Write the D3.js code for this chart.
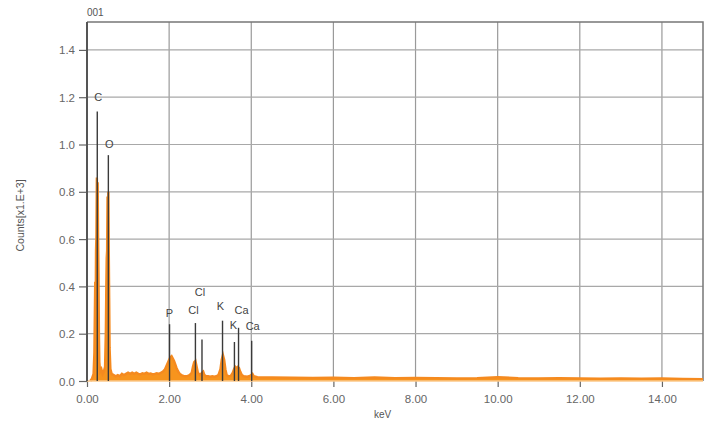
<!DOCTYPE html>
<meta charset="utf-8">
<head>
<style>
  body { margin: 0; background: #fff; }
  text { font-family: "Liberation Sans", Arial, sans-serif; }
</style>
</head>
<body>
<script src="https://d3js.org/d3.v7.min.js"></script>
<script>

// spectrum channels (keV) and counts (x1E+3)
var energy = [0.08,0.12,0.16,0.18,0.20,0.21,0.22,0.23,0.24,0.25,0.26,0.27,0.28,0.29,0.30,0.32,0.35,0.38,0.41,0.44,
  0.46,0.47,0.48,0.49,0.50,0.51,0.52,0.53,0.54,0.55,0.57,0.60,0.65,0.70,0.75,0.80,0.85,0.90,0.95,1.00,
  1.05,1.10,1.15,1.20,1.25,1.30,1.35,1.40,1.45,1.50,1.55,1.60,1.65,1.70,1.75,1.80,1.85,1.90,1.95,2.00,
  2.03,2.06,2.09,2.12,2.15,2.18,2.22,2.26,2.30,2.35,2.40,2.45,2.50,2.55,2.58,2.61,2.64,2.67,2.70,2.75,
  2.80,2.83,2.86,2.90,2.95,3.00,3.05,3.10,3.15,3.20,3.25,3.28,3.31,3.34,3.37,3.40,3.45,3.50,3.55,3.58,
  3.61,3.64,3.67,3.70,3.73,3.77,3.82,3.90,3.95,4.00,4.03,4.06,4.15,4.30,4.50,5.00,5.50,6.00,6.50,7.00,
  7.50,8.00,8.50,9.00,9.50,10.00,10.50,11.00,11.50,12.00,12.50,13.00,13.50,14.00,14.50,15.00];
var counts = [0.0,0.01,0.03,0.12,0.42,0.30,0.55,0.62,0.86,0.70,0.84,0.60,0.45,0.20,0.08,0.04,0.05,0.03,0.04,0.06,
  0.22,0.40,0.52,0.55,0.78,0.62,0.80,0.55,0.35,0.14,0.05,0.03,0.025,0.02,0.025,0.02,0.03,0.025,0.03,0.035,
  0.03,0.035,0.03,0.035,0.03,0.028,0.033,0.03,0.035,0.03,0.032,0.028,0.03,0.033,0.03,0.035,0.04,0.05,0.07,0.09,
  0.10,0.105,0.095,0.085,0.07,0.055,0.04,0.03,0.025,0.022,0.02,0.022,0.025,0.035,0.06,0.08,0.085,0.06,0.035,0.025,
  0.035,0.04,0.025,0.02,0.02,0.018,0.02,0.018,0.02,0.025,0.05,0.09,0.11,0.09,0.05,0.025,0.02,0.022,0.035,0.05,
  0.06,0.055,0.06,0.055,0.04,0.025,0.02,0.018,0.02,0.025,0.03,0.02,0.016,0.015,0.015,0.014,0.013,0.014,0.012,0.015,
  0.012,0.013,0.012,0.011,0.012,0.016,0.012,0.011,0.012,0.011,0.01,0.011,0.01,0.011,0.009,0.008];

// element marker lines: name, keV, line top, label height
var lineNames  = ["C", "O", "P", "Cl", "Cl", "K", "K", "Ca", "Ca"];
var lineKeV    = [0.25, 0.52, 2.01, 2.64, 2.80, 3.30, 3.59, 3.69, 4.01];
var lineTop    = [1.14, 0.955, 0.24, 0.245, 0.175, 0.255, 0.165, 0.225, 0.17];
var labelAt    = [1.20, 1.00, 0.285, 0.30, 0.375, 0.315, 0.235, 0.30, 0.23];
var labelShift = [1, 1, 0, -2, -2, -2, -1, 3, 1];

var xTicks = [0, 2, 4, 6, 8, 10, 12, 14];
var yTicks = [0, 0.2, 0.4, 0.6, 0.8, 1.0, 1.2, 1.4];

var width = 710, height = 427;
var margin = {top: 22, right: 7, bottom: 46, left: 87};
var w = width - margin.left - margin.right;
var h = height - margin.top - margin.bottom;

var svg = d3.select("body").append("svg")
    .attr("width", width)
    .attr("height", height);

var g = svg.append("g")
    .attr("transform", "translate(" + margin.left + "," + margin.top + ")");

var x = d3.scaleLinear().domain([0, 15]).range([0, w]);
var y = d3.scaleLinear().domain([0, 1.518]).range([h, 0]);

// grid
g.selectAll(".vgrid").data(xTicks.slice(1))
  .enter().append("line")
    .attr("x1", d => x(d)).attr("x2", d => x(d))
    .attr("y1", 0).attr("y2", h)
    .style("stroke", "#9a9a9a").style("stroke-width", 1.2);

g.selectAll(".hgrid").data(yTicks.slice(1))
  .enter().append("line")
    .attr("x1", 0).attr("x2", w)
    .attr("y1", d => y(d)).attr("y2", d => y(d))
    .style("stroke", "#a8a8a8").style("stroke-width", 1.2);

// frame top and right
g.append("path")
    .attr("d", "M0,0H" + w + "V" + h)
    .style("fill", "none").style("stroke", "#777").style("stroke-width", 1.5);

// axes
var xAxis = d3.axisBottom(x).tickValues(xTicks).tickFormat(d3.format(".2f")).tickSize(6).tickSizeOuter(0);
var yAxis = d3.axisLeft(y).tickValues(yTicks).tickFormat(d3.format(".1f")).tickSize(8).tickSizeOuter(0);

var gx = g.append("g").attr("transform", "translate(0," + h + ")").call(xAxis);
var gy = g.append("g").call(yAxis);

[gx, gy].forEach(function(a) {
  a.select(".domain").remove();
  a.selectAll("line").style("stroke", "#666").style("stroke-width", 1.2);
  a.selectAll("text").style("fill", "#666").style("font-size", "11.5px");
});
gx.selectAll("text").attr("dy", "1.1em");
gy.selectAll("text").attr("x", -12).attr("dy", "0.35em");

// spectrum
var pts = energy.map(function(e, i) { return [e, counts[i]]; });

var area = d3.area()
    .x(d => x(d[0]))
    .y0(h)
    .y1(d => y(d[1]));

var line = d3.line()
    .x(d => x(d[0]))
    .y(d => y(d[1]));

g.append("path").datum(pts)
    .attr("d", area)
    .style("fill", "#f7941d");

g.append("path").datum(pts)
    .attr("d", line)
    .style("fill", "none").style("stroke", "#f58a1f").style("stroke-width", 2.4);

// baseline
g.append("line")
    .attr("x1", 0).attr("x2", w).attr("y1", h).attr("y2", h)
    .style("stroke", "#fbc98a").style("stroke-width", 1.5);

// left axis line
g.append("line")
    .attr("x1", 0).attr("x2", 0).attr("y1", 0).attr("y2", h)
    .style("stroke", "#555").style("stroke-width", 2);

// element markers
g.selectAll(".mark").data(lineKeV)
  .enter().append("line")
    .attr("x1", d => x(d)).attr("x2", d => x(d))
    .attr("y1", h).attr("y2", (d, i) => y(lineTop[i]))
    .style("stroke", "#3a3a3a").style("stroke-width", 1.4);

g.selectAll(".lbl").data(lineNames)
  .enter().append("text")
    .attr("x", (d, i) => x(lineKeV[i]) + labelShift[i])
    .attr("y", (d, i) => y(labelAt[i]))
    .attr("dy", "0.35em")
    .attr("text-anchor", "middle")
    .style("font-size", "11px")
    .style("fill", "#444")
    .text(d => d);

// titles
svg.append("text")
    .attr("x", margin.left).attr("y", 16)
    .style("font-size", "10px").style("fill", "#555")
    .text("001");

svg.append("text")
    .attr("x", margin.left + x(7.2)).attr("y", 418)
    .attr("text-anchor", "middle")
    .style("font-size", "10px").style("fill", "#555")
    .text("keV");

svg.append("text")
    .attr("transform", "translate(24," + (margin.top + y(0.7)) + ") rotate(-90)")
    .attr("text-anchor", "middle")
    .style("font-size", "10.5px").style("fill", "#555")
    .text("Counts[x1.E+3]");

</script>
</body>
